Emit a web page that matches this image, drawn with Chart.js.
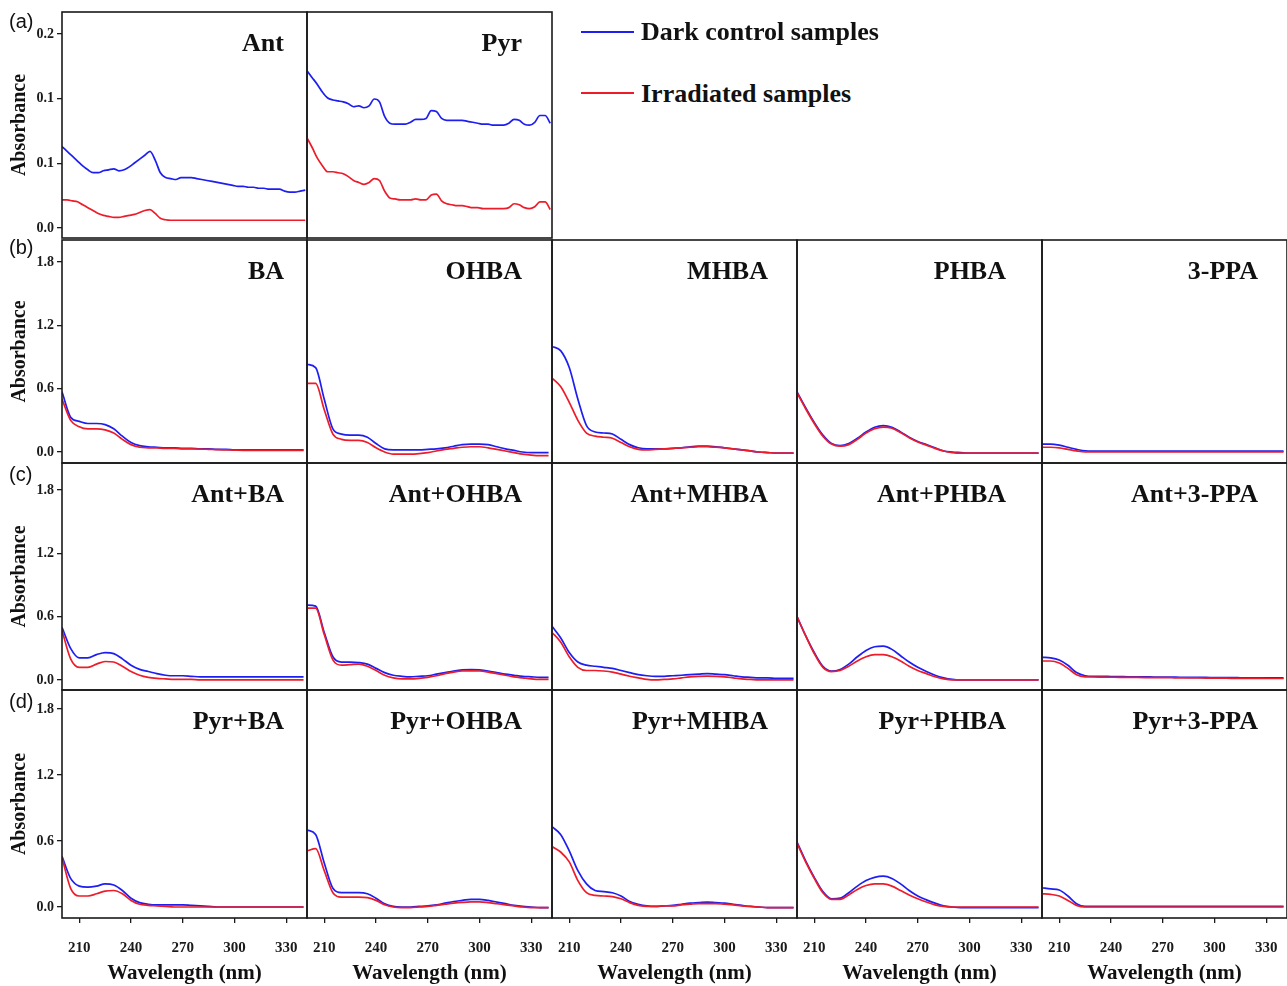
<!DOCTYPE html>
<html>
<head>
<meta charset="utf-8">
<script src="https://cdn.jsdelivr.net/npm/chart.js@4/dist/chart.umd.min.js"></script>
<style>
  html, body { margin: 0; padding: 0; background: #fff; overflow: hidden; }
  body { width: 1287px; height: 986px; position: relative; }
  .panel { position: absolute; }
  .panel canvas { display: block; }
  .name { position: absolute; text-align: right; font: bold 26px 'Liberation Serif', 'Times New Roman', serif; line-height: 26px; color: #111; white-space: nowrap; }
  .tag { position: absolute; font: 20px 'Liberation Sans', Arial, sans-serif; line-height: 20px; color: #111; }
  .leg { position: absolute; font: bold 26px 'Liberation Serif', 'Times New Roman', serif; line-height: 26px; color: #111; white-space: nowrap; }
  .swatch { position: absolute; height: 2px; width: 53px; }
</style>
</head>
<body>
<script>
// wavelengths (nm)
const waveA = [200,203,206,209,212,215,218,221,224,227,230,233,236,239,242,245,248,251,254,257,260,263,266,269,272,275,278,281,284,287,290,293,296,299,302,305,308,311,314,317,320,323,326,329,332,335,338,341];
const waveB = [200,205,210,215,220,225,230,235,240,245,250,255,260,265,270,275,280,285,290,295,300,305,310,315,320,325,330,335,340];
const xTicks = [210, 240, 270, 300, 330];

// (a) PAHs alone
const antDark = [0.084,0.079,0.074,0.069,0.064,0.060,0.057,0.057,0.059,0.060,0.061,0.059,0.060,0.063,0.067,0.071,0.075,0.079,0.070,0.057,0.052,0.051,0.050,0.052,0.052,0.052,0.051,0.050,0.049,0.048,0.047,0.046,0.045,0.044,0.043,0.043,0.042,0.042,0.041,0.041,0.040,0.040,0.040,0.038,0.037,0.037,0.038,0.039];
const antIrr = [0.029,0.029,0.028,0.027,0.024,0.021,0.018,0.015,0.013,0.012,0.011,0.011,0.012,0.013,0.014,0.016,0.018,0.019,0.015,0.010,0.0085,0.008,0.008,0.008,0.008,0.008,0.008,0.008,0.008,0.008,0.008,0.008,0.008,0.008,0.008,0.008,0.008,0.008,0.008,0.008,0.008,0.008,0.008,0.008,0.008,0.008,0.008,0.008];
const pyrDark = [0.162,0.155,0.148,0.140,0.134,0.132,0.131,0.130,0.128,0.125,0.126,0.124,0.126,0.133,0.130,0.115,0.108,0.107,0.107,0.107,0.109,0.112,0.112,0.113,0.121,0.120,0.113,0.111,0.111,0.111,0.111,0.110,0.109,0.108,0.107,0.107,0.106,0.106,0.106,0.108,0.112,0.111,0.107,0.106,0.109,0.116,0.116,0.108];
const pyrIrr = [0.093,0.083,0.072,0.064,0.058,0.058,0.057,0.056,0.053,0.049,0.047,0.045,0.047,0.051,0.049,0.038,0.031,0.030,0.029,0.029,0.029,0.030,0.029,0.029,0.034,0.035,0.028,0.025,0.024,0.023,0.023,0.022,0.021,0.021,0.020,0.020,0.020,0.020,0.020,0.021,0.025,0.024,0.021,0.020,0.022,0.027,0.027,0.019];

// (b) acids alone
const baDark = [0.57,0.33,0.29,0.27,0.27,0.26,0.22,0.15,0.09,0.06,0.05,0.045,0.04,0.04,0.035,0.035,0.03,0.03,0.025,0.025,0.02,0.02,0.02,0.02,0.02,0.02,0.02,0.02,0.02];
const baIrr = [0.50,0.30,0.24,0.22,0.22,0.21,0.18,0.12,0.07,0.045,0.04,0.038,0.035,0.035,0.03,0.03,0.028,0.025,0.022,0.02,0.018,0.016,0.015,0.015,0.015,0.015,0.015,0.015,0.015];
const ohbaDark = [0.83,0.80,0.50,0.22,0.17,0.16,0.16,0.14,0.08,0.03,0.02,0.02,0.02,0.02,0.025,0.03,0.04,0.055,0.07,0.075,0.075,0.07,0.05,0.03,0.015,0.0,-0.005,-0.005,-0.005];
const ohbaIrr = [0.65,0.65,0.40,0.17,0.12,0.11,0.11,0.09,0.04,0.0,-0.02,-0.02,-0.02,-0.015,-0.005,0.01,0.025,0.035,0.045,0.05,0.05,0.04,0.025,0.01,-0.005,-0.02,-0.03,-0.035,-0.035];
const mhbaDark = [1.0,0.96,0.80,0.50,0.25,0.19,0.18,0.17,0.12,0.07,0.04,0.03,0.03,0.03,0.035,0.04,0.05,0.055,0.055,0.05,0.04,0.03,0.02,0.01,0.0,-0.005,-0.01,-0.01,-0.01];
const mhbaIrr = [0.70,0.62,0.47,0.30,0.18,0.15,0.14,0.13,0.09,0.05,0.025,0.02,0.025,0.03,0.035,0.04,0.045,0.05,0.05,0.045,0.04,0.03,0.02,0.01,0.0,-0.005,-0.01,-0.01,-0.01];
const phbaDark = [0.57,0.42,0.28,0.16,0.08,0.06,0.08,0.13,0.19,0.235,0.25,0.235,0.19,0.14,0.10,0.07,0.04,0.01,0.0,-0.005,-0.01,-0.01,-0.01,-0.01,-0.01,-0.01,-0.01,-0.01,-0.01];
const phbaIrr = [0.56,0.41,0.27,0.15,0.075,0.055,0.07,0.12,0.18,0.22,0.235,0.225,0.185,0.135,0.095,0.065,0.035,0.01,-0.005,-0.01,-0.01,-0.01,-0.01,-0.01,-0.01,-0.01,-0.01,-0.01,-0.01];
const ppaDark = [0.075,0.075,0.065,0.045,0.025,0.01,0.008,0.008,0.008,0.008,0.008,0.008,0.008,0.008,0.008,0.008,0.008,0.008,0.008,0.008,0.008,0.008,0.008,0.008,0.008,0.008,0.008,0.008,0.008];
const ppaIrr = [0.045,0.045,0.04,0.025,0.01,0.0,0.0,0.0,0.0,0.0,0.0,0.0,0.0,0.0,0.0,0.0,0.0,0.0,0.0,0.0,0.0,0.0,0.0,0.0,0.0,0.0,0.0,0.0,0.0];

// (c) Ant + acids
const antBaDark = [0.50,0.30,0.21,0.21,0.24,0.26,0.25,0.20,0.14,0.10,0.08,0.06,0.045,0.04,0.04,0.035,0.03,0.03,0.03,0.03,0.03,0.03,0.03,0.03,0.03,0.03,0.03,0.03,0.03];
const antBaIrr = [0.47,0.20,0.12,0.12,0.15,0.175,0.17,0.13,0.08,0.045,0.025,0.015,0.01,0.005,0.005,0.005,0.0,0.0,0.0,0.0,0.0,0.0,0.0,0.0,0.0,0.0,0.0,0.0,0.0];
const antOhbaDark = [0.71,0.70,0.45,0.22,0.17,0.17,0.165,0.15,0.11,0.07,0.045,0.035,0.03,0.035,0.04,0.055,0.07,0.085,0.095,0.098,0.095,0.085,0.07,0.055,0.045,0.035,0.03,0.025,0.025];
const antOhbaIrr = [0.68,0.68,0.43,0.19,0.14,0.145,0.15,0.13,0.09,0.045,0.02,0.01,0.01,0.015,0.025,0.04,0.06,0.075,0.085,0.086,0.085,0.075,0.06,0.045,0.03,0.02,0.01,0.005,0.005];
const antMhbaDark = [0.51,0.40,0.26,0.17,0.14,0.13,0.12,0.11,0.09,0.07,0.05,0.04,0.035,0.035,0.04,0.045,0.05,0.055,0.06,0.055,0.05,0.04,0.03,0.025,0.02,0.02,0.015,0.015,0.015];
const antMhbaIrr = [0.45,0.36,0.22,0.12,0.09,0.09,0.085,0.075,0.055,0.035,0.02,0.005,0.0,0.005,0.01,0.02,0.03,0.035,0.037,0.035,0.03,0.02,0.01,0.005,0.0,0.0,0.0,0.0,0.0];
const antPhbaDark = [0.60,0.42,0.26,0.13,0.085,0.10,0.15,0.22,0.28,0.315,0.32,0.29,0.23,0.17,0.12,0.08,0.045,0.02,0.005,0.0,0.0,0.0,0.0,0.0,0.0,0.0,0.0,0.0,0.0];
const antPhbaIrr = [0.60,0.42,0.25,0.12,0.08,0.09,0.13,0.18,0.22,0.24,0.24,0.22,0.18,0.13,0.09,0.06,0.03,0.01,0.0,0.0,0.0,0.0,0.0,0.0,0.0,0.0,0.0,0.0,0.0];
const antPpaDark = [0.215,0.21,0.19,0.14,0.07,0.04,0.035,0.035,0.033,0.032,0.03,0.03,0.03,0.028,0.028,0.027,0.026,0.025,0.025,0.024,0.023,0.022,0.022,0.021,0.02,0.02,0.02,0.02,0.02];
const antPpaIrr = [0.18,0.18,0.16,0.11,0.05,0.03,0.028,0.027,0.026,0.025,0.025,0.024,0.023,0.022,0.022,0.021,0.02,0.02,0.019,0.018,0.018,0.017,0.016,0.016,0.015,0.015,0.014,0.014,0.014];

// (d) Pyr + acids
const pyrBaDark = [0.46,0.26,0.19,0.18,0.19,0.21,0.20,0.15,0.08,0.04,0.025,0.02,0.02,0.02,0.02,0.015,0.01,0.005,0.0,0.0,0.0,0.0,0.0,0.0,0.0,0.0,0.0,0.0,0.0];
const pyrBaIrr = [0.45,0.17,0.10,0.10,0.12,0.145,0.15,0.12,0.06,0.025,0.015,0.01,0.005,0.0,0.0,0.0,0.0,0.0,0.0,0.0,0.0,0.0,0.0,0.0,0.0,0.0,0.0,0.0,0.0];
const pyrOhbaDark = [0.70,0.66,0.40,0.17,0.13,0.13,0.13,0.12,0.08,0.03,0.005,0.0,0.0,0.005,0.01,0.02,0.035,0.05,0.06,0.07,0.07,0.06,0.045,0.03,0.015,0.005,0.0,-0.005,-0.005];
const pyrOhbaIrr = [0.51,0.53,0.33,0.13,0.09,0.09,0.09,0.085,0.06,0.02,0.0,-0.005,-0.005,0.0,0.005,0.015,0.025,0.035,0.042,0.046,0.046,0.04,0.03,0.02,0.01,0.0,-0.005,-0.005,-0.005];
const pyrMhbaDark = [0.73,0.66,0.51,0.33,0.21,0.15,0.14,0.13,0.10,0.05,0.025,0.01,0.005,0.01,0.015,0.025,0.035,0.04,0.045,0.04,0.035,0.025,0.015,0.005,0.0,-0.005,-0.005,-0.005,-0.005];
const pyrMhbaIrr = [0.55,0.50,0.41,0.24,0.13,0.105,0.10,0.095,0.075,0.04,0.015,0.005,0.005,0.01,0.01,0.02,0.025,0.03,0.03,0.03,0.025,0.02,0.01,0.005,0.0,-0.005,-0.005,-0.005,-0.005];
const pyrPhbaDark = [0.59,0.42,0.27,0.14,0.075,0.08,0.13,0.19,0.24,0.27,0.28,0.26,0.21,0.15,0.10,0.065,0.035,0.01,0.0,-0.005,-0.005,-0.005,-0.005,-0.005,-0.005,-0.005,-0.005,-0.005,-0.005];
const pyrPhbaIrr = [0.58,0.41,0.26,0.13,0.07,0.07,0.11,0.16,0.195,0.21,0.21,0.19,0.15,0.11,0.075,0.045,0.02,0.005,0.0,0.0,0.0,0.0,0.0,0.0,0.0,0.0,0.0,0.0,0.0];
const pyrPpaDark = [0.175,0.165,0.155,0.10,0.03,0.005,0.005,0.005,0.005,0.005,0.005,0.005,0.005,0.005,0.005,0.005,0.005,0.005,0.005,0.005,0.005,0.005,0.005,0.005,0.005,0.005,0.005,0.005,0.005];
const pyrPpaIrr = [0.12,0.115,0.10,0.06,0.015,0.0,0.0,0.0,0.0,0.0,0.0,0.0,0.0,0.0,0.0,0.0,0.0,0.0,0.0,0.0,0.0,0.0,0.0,0.0,0.0,0.0,0.0,0.0,0.0];

// layout
const SERIF = "'Liberation Serif', 'Times New Roman', serif";
const BLUE = '#1e1ef0', RED = '#ee1c2a';
const LEFT = 62, COL_W = 245;
const ROW_TOP = [12, 240, 463, 690];
const ROW_BOT = [238, 463, 690, 918];
const Y_RANGE = [[-0.0103, 0.2227], [-0.104, 2.008], [-0.095, 2.056], [-0.1, 1.973]];
const Y_TICKS = [[0, 0.0667, 0.1333, 0.2], [0, 0.6, 1.2, 1.8], [0, 0.6, 1.2, 1.8], [0, 0.6, 1.2, 1.8]];
const NAME_MARGIN = [23, 30, 29, 36, 29];

const panels = [
  { name: 'Ant', row: 0, col: 0, x: waveA, dark: antDark, irr: antIrr },
  { name: 'Pyr', row: 0, col: 1, x: waveA, dark: pyrDark, irr: pyrIrr },
  { name: 'BA', row: 1, col: 0, x: waveB, dark: baDark, irr: baIrr },
  { name: 'OHBA', row: 1, col: 1, x: waveB, dark: ohbaDark, irr: ohbaIrr },
  { name: 'MHBA', row: 1, col: 2, x: waveB, dark: mhbaDark, irr: mhbaIrr },
  { name: 'PHBA', row: 1, col: 3, x: waveB, dark: phbaDark, irr: phbaIrr },
  { name: '3-PPA', row: 1, col: 4, x: waveB, dark: ppaDark, irr: ppaIrr },
  { name: 'Ant+BA', row: 2, col: 0, x: waveB, dark: antBaDark, irr: antBaIrr },
  { name: 'Ant+OHBA', row: 2, col: 1, x: waveB, dark: antOhbaDark, irr: antOhbaIrr },
  { name: 'Ant+MHBA', row: 2, col: 2, x: waveB, dark: antMhbaDark, irr: antMhbaIrr },
  { name: 'Ant+PHBA', row: 2, col: 3, x: waveB, dark: antPhbaDark, irr: antPhbaIrr },
  { name: 'Ant+3-PPA', row: 2, col: 4, x: waveB, dark: antPpaDark, irr: antPpaIrr },
  { name: 'Pyr+BA', row: 3, col: 0, x: waveB, dark: pyrBaDark, irr: pyrBaIrr },
  { name: 'Pyr+OHBA', row: 3, col: 1, x: waveB, dark: pyrOhbaDark, irr: pyrOhbaIrr },
  { name: 'Pyr+MHBA', row: 3, col: 2, x: waveB, dark: pyrMhbaDark, irr: pyrMhbaIrr },
  { name: 'Pyr+PHBA', row: 3, col: 3, x: waveB, dark: pyrPhbaDark, irr: pyrPhbaIrr },
  { name: 'Pyr+3-PPA', row: 3, col: 4, x: waveB, dark: pyrPpaDark, irr: pyrPpaIrr }
];

// box around each plot area
const framePlugin = {
  id: 'frame',
  afterDatasetsDraw(chart) {
    const { ctx, chartArea: a } = chart;
    ctx.save();
    ctx.strokeStyle = '#1a1a1a';
    ctx.lineWidth = 1.6;
    ctx.strokeRect(a.left, a.top, a.right - a.left, a.bottom - a.top);
    ctx.restore();
  }
};

function series(xs, ys) {
  return xs.map((w, i) => ({ x: w, y: ys[i] }));
}

function addDiv(cls, text, css) {
  const d = document.createElement('div');
  d.className = cls;
  if (text) d.textContent = text;
  Object.assign(d.style, css);
  document.body.appendChild(d);
  return d;
}

// fixed axis sizes, no extra room for edge labels
function fixSize(s, w, h) {
  if (w !== null) s.width = w;
  if (h !== null) s.height = h;
  s.paddingLeft = 0; s.paddingRight = 0;
  s.paddingTop = 0; s.paddingBottom = 0;
}

function makePanel(p) {
  const firstCol = p.col === 0, lastRow = p.row === 3;
  const axisW = firstCol ? 62 : 0, axisH = lastRow ? 68 : 0;
  const top = ROW_TOP[p.row], h = ROW_BOT[p.row] - top;
  const left = LEFT + p.col * COL_W;
  const cw = axisW + COL_W + 2, ch = h + axisH + 2;

  const box = addDiv('panel', null, {
    left: (left - axisW - 1) + 'px', top: (top - 1) + 'px',
    width: cw + 'px', height: ch + 'px'
  });
  const canvas = document.createElement('canvas');
  canvas.width = cw;
  canvas.height = ch;
  box.appendChild(canvas);

  const tickFont = size => ({ family: SERIF, weight: 'bold', size: size });
  const grid = { display: true, drawOnChartArea: false, drawTicks: true, tickLength: 5, color: '#1a1a1a', lineWidth: 1.3 };

  new Chart(canvas, {
    type: 'line',
    data: {
      datasets: [
        { label: 'Dark control samples', data: series(p.x, p.dark), borderColor: BLUE, order: 1 },
        { label: 'Irradiated samples', data: series(p.x, p.irr), borderColor: RED, order: 0 }
      ]
    },
    options: {
      responsive: false,
      animation: false,
      devicePixelRatio: 1,
      layout: { padding: 1 },
      elements: {
        point: { radius: 0 },
        line: { borderWidth: 1.7, cubicInterpolationMode: 'monotone', fill: false }
      },
      plugins: { legend: { display: false }, tooltip: { enabled: false } },
      scales: {
        x: {
          type: 'linear', min: 200, max: 342,
          display: lastRow,
          afterBuildTicks: s => { s.ticks = xTicks.map(v => ({ value: v })); },
          afterFit: s => fixSize(s, null, axisH),
          grid: grid,
          border: { display: false },
          ticks: { padding: 16, autoSkip: false, maxRotation: 0, color: '#1a1a1a', font: tickFont(15), callback: v => String(v) },
          title: { display: true, text: 'Wavelength (nm)', color: '#111', font: tickFont(21), padding: { top: 0, bottom: 0 } }
        },
        y: {
          type: 'linear', min: Y_RANGE[p.row][0], max: Y_RANGE[p.row][1],
          display: firstCol,
          afterBuildTicks: s => { s.ticks = Y_TICKS[p.row].map(v => ({ value: v })); },
          afterFit: s => fixSize(s, axisW, null),
          grid: grid,
          border: { display: false },
          ticks: { padding: 3, color: '#1a1a1a', font: tickFont(14), callback: v => v.toFixed(1) },
          title: { display: true, text: 'Absorbance', color: '#111', font: tickFont(20), padding: { top: 8, bottom: 0 } }
        }
      }
    },
    plugins: [framePlugin]
  });

  addDiv('name', p.name, {
    left: left + 'px', width: (COL_W - NAME_MARGIN[p.col]) + 'px', top: (top + 18) + 'px'
  });
}

panels.forEach(makePanel);

// row tags
[['(a)', 11], ['(b)', 237], ['(c)', 464], ['(d)', 691]].forEach(([t, y]) => {
  addDiv('tag', t, { left: '9px', top: y + 'px' });
});

// legend
addDiv('swatch', null, { left: '581px', top: '31px', background: BLUE });
addDiv('leg', 'Dark control samples', { left: '641px', top: '19px' });
addDiv('swatch', null, { left: '581px', top: '92px', background: RED });
addDiv('leg', 'Irradiated samples', { left: '641px', top: '81px' });
</script>
</body>
</html>
